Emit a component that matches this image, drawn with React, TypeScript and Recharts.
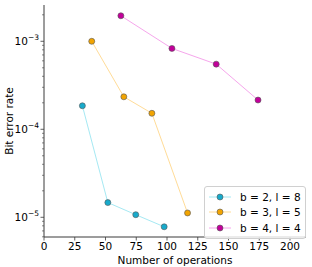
import React from 'react';
import { LineChart, Line, XAxis, YAxis, Legend } from 'recharts';

const series1X = [31.2, 51.9, 74.6, 97.7];
const series1Y = [1.85e-4, 1.47e-5, 1.07e-5, 7.8e-6];
const series2X = [38.8, 64.9, 87.7, 116.7];
const series2Y = [1.0e-3, 2.34e-4, 1.52e-4, 1.12e-5];
const series3X = [62.5, 104, 140, 174];
const series3Y = [1.95e-3, 8.3e-4, 5.5e-4, 2.15e-4];

const seriesNames = ['b = 2, l = 8', 'b = 3, l = 5', 'b = 4, l = 4'];
const lineColors = ['#a6e9f3', '#ffdc98', '#f6a6ec'];
const markerColors = ['#18aacb', '#f2a400', '#c2009a'];

const xTicks = [0, 25, 50, 75, 100, 125, 150, 175, 200];
const yTicks = [
  6e-6, 7e-6, 8e-6, 9e-6, 1e-5,
  2e-5, 3e-5, 4e-5, 5e-5, 6e-5, 7e-5, 8e-5, 9e-5, 1e-4,
  2e-4, 3e-4, 4e-4, 5e-4, 6e-4, 7e-4, 8e-4, 9e-4, 1e-3,
  2e-3,
];
const xDomain = [0, 213];
const yDomain = [5.97e-6, 2.585e-3];

const toData = (xs: number[], ys: number[]) => xs.map((x, i) => ({ x, y: ys[i] }));
const allSeries = [
  toData(series1X, series1Y),
  toData(series2X, series2Y),
  toData(series3X, series3Y),
];

const FONT = '"DejaVu Sans", sans-serif';
const AXIS = '#3a3a3a';

const XTick = (props: any) => {
  const { x, y, payload } = props;
  return (
    <g>
      <line x1={x} x2={x} y1={y} y2={y + 3.5} stroke={AXIS} strokeWidth={0.8} />
      <text x={x} y={y + 13} textAnchor="middle" fontSize={10.5} fontFamily={FONT} fill="#000">
        {payload.value}
      </text>
    </g>
  );
};

const YTick = (props: any) => {
  const { x, y, payload } = props;
  const lg = Math.log10(payload.value);
  const major = Math.abs(lg - Math.round(lg)) < 1e-6;
  if (!major) {
    return <line x1={x - 2} x2={x} y1={y} y2={y} stroke={AXIS} strokeWidth={0.6} />;
  }
  return (
    <g>
      <line x1={x - 3.5} x2={x} y1={y} y2={y} stroke={AXIS} strokeWidth={0.8} />
      <text x={x - 5} y={y + 3.8} textAnchor="end" fontSize={10.5} fontFamily={FONT} fill="#000">
        <tspan>10</tspan>
        <tspan dy={-5} fontSize={7.5}>{'\u2212' + String(-Math.round(lg))}</tspan>
      </text>
    </g>
  );
};

const renderLegend = () => (
  <div
    style={{
      border: '1px solid #d0d0d0',
      borderRadius: 3,
      background: 'rgba(255,255,255,0.8)',
      padding: '2px 3px 2px 3px',
      fontFamily: FONT,
      fontSize: 10.5,
      boxSizing: 'border-box',
      width: 102,
    }}
  >
    {seriesNames.map((name, i) => (
      <div key={name} style={{ display: 'flex', alignItems: 'center', height: 15.5, whiteSpace: 'nowrap' }}>
        <svg width={24} height={10} style={{ marginRight: 8 }}>
          <line x1={1} x2={23} y1={5} y2={5} stroke={lineColors[i]} strokeWidth={1} />
          <circle cx={12} cy={5} r={3} fill={markerColors[i]} stroke="#555" strokeWidth={0.6} />
        </svg>
        <span style={{ color: '#000' }}>{name}</span>
      </div>
    ))}
  </div>
);

export default function App() {
  return (
    <div style={{ position: 'absolute', left: 0, top: 0, width: 312, height: 267, background: '#fff' }}>
      <LineChart width={312} height={267} margin={{ top: 5, right: 6, left: 0, bottom: 0 }}>
        <XAxis
          dataKey="x"
          type="number"
          domain={xDomain}
          ticks={xTicks}
          allowDataOverflow
          interval={0}
          tickSize={0}
          tickMargin={0}
          tickLine={false}
          tick={<XTick />}
          height={30}
          stroke={AXIS}
          strokeWidth={1}
          label={{ value: 'Number of operations', position: 'insideBottom', offset: 3, fontSize: 10.5, fontFamily: FONT, fill: '#000' }}
        />
        <XAxis xAxisId="top" orientation="top" type="number" domain={xDomain} height={0} tick={false} tickLine={false} stroke={AXIS} />
        <YAxis
          dataKey="y"
          type="number"
          scale="log"
          domain={yDomain}
          ticks={yTicks}
          allowDataOverflow
          interval={0}
          tickSize={0}
          tickMargin={0}
          tickLine={false}
          tick={<YTick />}
          width={44}
          stroke={AXIS}
          strokeWidth={1}
          label={{ value: 'Bit error rate', angle: -90, position: 'insideLeft', offset: 9, fontSize: 10.5, fontFamily: FONT, fill: '#000', style: { textAnchor: 'middle' } }}
        />
        <YAxis yAxisId="right" orientation="right" type="number" width={0} tick={false} tickLine={false} stroke={AXIS} />
        {allSeries.map((d, i) => (
          <Line
            key={seriesNames[i]}
            data={d}
            dataKey="y"
            name={seriesNames[i]}
            type="linear"
            stroke={lineColors[i]}
            strokeWidth={1}
            dot={{ r: 3, fill: markerColors[i], stroke: '#555', strokeWidth: 0.6 }}
            activeDot={false}
            isAnimationActive={false}
          />
        ))}
        <Legend
          layout="vertical"
          align="center"
          verticalAlign="middle"
          content={renderLegend}
          wrapperStyle={{ position: 'absolute', left: 204, top: 186, width: 102, height: 46 }}
        />
      </LineChart>
    </div>
  );
}
